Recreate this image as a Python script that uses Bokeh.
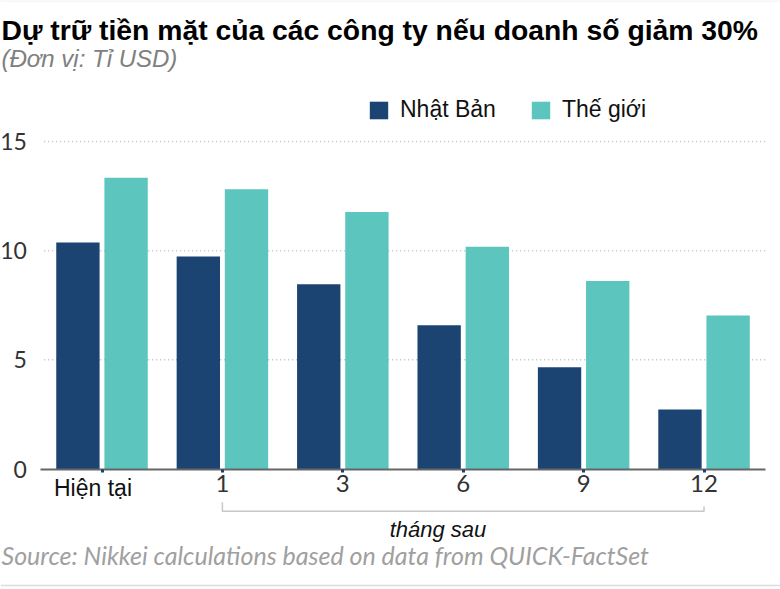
from bokeh.plotting import figure
from bokeh.models import (ColumnDataSource, Range1d, FixedTicker,
                          Label, Legend, LegendItem, Span)
from bokeh.transform import dodge
from bokeh.embed import file_html
from bokeh.resources import INLINE

# data (billion USD)
x_labels = ["Hiện tại", "1", "3", "6", "9", "12"]
nhat_ban = [10.38, 9.74, 8.46, 6.58, 4.66, 2.73]
the_gioi = [13.34, 12.81, 11.77, 10.18, 8.61, 7.03]
y_ticks = [0, 5, 10, 15]

series_names = ["Nhật Bản", "Thế giới"]
title_text = "Dự trữ tiền mặt của các công ty nếu doanh số giảm 30%"
unit_text = "(Đơn vị: Tỉ USD)"
group_text = "tháng sau"
source_text = "Source: Nikkei calculations based on data from QUICK-FactSet"

NAVY = "#1b4473"
TEAL = "#5cc5bd"

idx = list(range(len(x_labels)))
src = ColumnDataSource(dict(idx=idx, nb=nhat_ban, tg=the_gioi))

# the frame covers the whole canvas; axes are pinned inside it
W, H = 780, 589
p = figure(width=W, height=H, x_range=Range1d(-0.843, 5.635), y_range=Range1d(-5.52, 21.462),
           output_backend="svg", toolbar_location=None, min_border=0)
p.outline_line_color = None
p.xgrid.visible = False
p.ygrid.visible = False

# dotted value lines (the zero line is the axis)
p.segment(x0=-0.48, x1=5.51, y0=y_ticks[1:], y1=y_ticks[1:],
          line_color="#bdbdbd", line_width=1.5, line_dash="1 3")

r_nb = p.vbar(x=dodge("idx", -0.2), top="nb", width=0.36, source=src,
              fill_color=NAVY, line_color=None)
r_tg = p.vbar(x=dodge("idx", 0.2), top="tg", width=0.36, source=src,
              fill_color=TEAL, line_color=None)

p.yaxis.fixed_location = -0.5
p.yaxis.ticker = FixedTicker(ticks=y_ticks)
p.yaxis.axis_line_color = None
p.yaxis.major_tick_line_color = None
p.yaxis.minor_tick_line_color = None
p.yaxis.major_label_standoff = 9
p.yaxis.major_label_text_font = "Lato"
p.yaxis.major_label_text_font_size = "23px"
p.yaxis.major_label_text_color = "#333333"

p.xaxis.fixed_location = 0
p.xaxis.bounds = (-0.51, 5.51)
p.xaxis.ticker = FixedTicker(ticks=idx)
p.xaxis.major_label_overrides = {i: ("" if i == 0 else lbl) for i, lbl in enumerate(x_labels)}
p.xaxis.axis_line_color = "#666666"
p.xaxis.axis_line_width = 2
p.xaxis.major_tick_line_color = "#1f3f6e"
p.xaxis.major_tick_line_width = 3
p.xaxis.major_tick_in = 0
p.xaxis.major_tick_out = 3
p.xaxis.minor_tick_line_color = None
p.xaxis.major_label_standoff = 3
p.xaxis.major_label_text_font = "Lato"
p.xaxis.major_label_text_font_size = "24px"
p.xaxis.major_label_text_color = "#333333"

# "Hiện tại" sits a bit left of its tick and uses another face
p.add_layout(Label(x=92.5, y=102, x_units="screen", y_units="screen", text=x_labels[0],
                   text_font="Liberation Sans", text_font_size="23px", text_color="#111111",
                   text_align="center", text_baseline="alphabetic"))

# bracket under the month ticks
p.line(x=[idx[1], idx[1], idx[-1], idx[-1]], y=[-1.52, -1.933, -1.933, -1.72],
       line_color="#c8c8c8", line_width=1.5)
p.add_layout(Label(x=437.5, y=60, x_units="screen", y_units="screen", text=group_text,
                   text_font="Liberation Sans", text_font_style="italic", text_font_size="22px",
                   text_color="#111111", text_align="center", text_baseline="alphabetic"))

legend = Legend(items=[LegendItem(label=series_names[0], renderers=[r_nb]),
                       LegendItem(label=series_names[1], renderers=[r_tg])],
                orientation="horizontal", location=(367, 466),
                glyph_width=23, glyph_height=22, label_standoff=10, spacing=33,
                padding=0, margin=0, border_line_color=None, background_fill_alpha=0,
                label_text_font="Liberation Sans", label_text_font_size="23px",
                label_text_color="#111111")
p.add_layout(legend)

p.add_layout(Label(x=1, y=560, x_units="screen", y_units="screen", text=title_text,
                   text_font="Liberation Sans", text_font_style="bold", text_font_size="28.3px",
                   text_color="#000000", text_baseline="alphabetic"))
p.add_layout(Label(x=1, y=531, x_units="screen", y_units="screen", text=unit_text,
                   text_font="Liberation Sans", text_font_style="italic", text_font_size="24px",
                   text_color="#808080", text_baseline="alphabetic"))
p.add_layout(Label(x=1, y=35, x_units="screen", y_units="screen", text=source_text,
                   text_font="Lato", text_font_style="italic", text_font_size="25px",
                   text_color="#a0a0a0", text_baseline="alphabetic"))
p.add_layout(Span(location=-5.337, dimension="width", line_color="#dcdcdc", line_width=1.5))
p.add_layout(Span(location=21.44, dimension="width", line_color="#ececec", line_width=1))

open("out.html", "w").write(file_html(p, INLINE))
